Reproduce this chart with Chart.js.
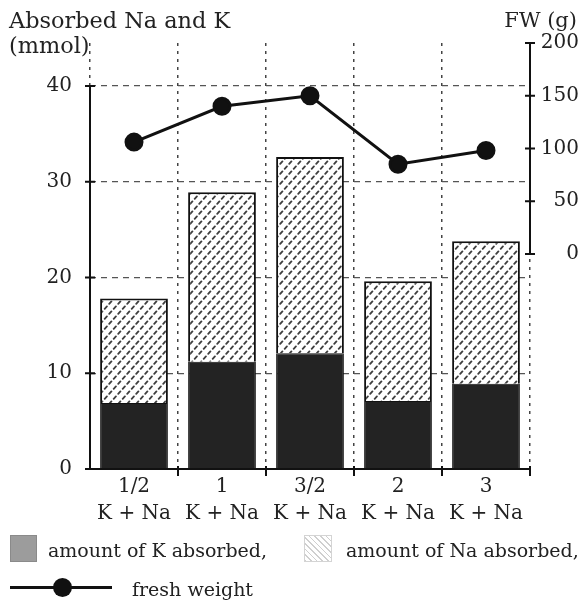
<!DOCTYPE html>
<html><head><meta charset="utf-8">
<script src="https://cdn.jsdelivr.net/npm/chart.js@4"></script>
<style>
html,body{margin:0;padding:0;background:#fff;}
#wrap{position:relative;width:579px;height:600px;font-family:"DejaVu Serif",serif;color:#222;overflow:hidden;}
#c{position:absolute;left:0;top:0;}
.t{position:absolute;white-space:nowrap;font-size:20px;line-height:24px;}
.lg{font-size:19px;}
.sw{position:absolute;}
</style></head><body>
<div id="wrap">
<canvas id="c" width="579" height="600"></canvas>
<div class="t" style="left:9px;top:8px;font-size:22.4px;line-height:25px;">Absorbed Na and K<br>(mmol)</div>
<div class="t" style="right:2px;top:8px;font-size:21px;">FW (g)</div>
<div class="sw" style="left:10px;top:535px;width:27px;height:27px;background:#9c9c9c;border:1px solid #8a8a8a;box-sizing:border-box;"></div>
<div class="t lg" style="left:48px;top:538px;">amount of K absorbed,</div>
<div class="sw" style="left:304px;top:535px;width:28px;height:27px;border:1px solid #d4d4d4;box-sizing:border-box;background:repeating-linear-gradient(45deg,#cfcfcf 0 1px,#fff 1px 4px);"></div>
<div class="t lg" style="left:346px;top:538px;">amount of Na absorbed,</div>
<div class="sw" style="left:10px;top:586px;width:102px;height:3px;background:#111;"></div>
<div class="sw" style="left:53px;top:578px;width:19px;height:19px;border-radius:50%;background:#111;"></div>
<div class="t lg" style="left:132px;top:577px;">fresh weight</div>
</div>
<script>
// ---- data ----
const ratioLabels = ['1/2', '1', '3/2', '2', '3'];
const saltLabel = 'K + Na';
const kAbsorbed = [6.9, 11.2, 12.1, 7.1, 8.9];      // mmol
const naAbsorbed = [10.9, 17.7, 20.5, 12.5, 14.9];  // mmol
const freshWeight = [106, 140, 150, 85, 98];        // g
const leftTicks = [0, 10, 20, 30, 40];
const rightTicks = [0, 50, 100, 150, 200];

const categories = ratioLabels.map(r => [r, saltLabel]);

function makePattern() {
  const c = document.createElement('canvas');
  c.width = 9; c.height = 10;
  const g = c.getContext('2d');
  g.fillStyle = '#fff'; g.fillRect(0, 0, 9, 10);
  g.strokeStyle = '#3e3e3e'; g.lineWidth = 1.8; g.lineCap = 'round';
  g.beginPath();
  g.moveTo(1.2, 3.8); g.lineTo(3.4, 1.4);
  g.moveTo(5.7, 8.8); g.lineTo(7.9, 6.4);
  g.stroke();
  return g.createPattern(c, 'repeat');
}

Chart.defaults.font.family = '"DejaVu Serif", serif';
Chart.defaults.font.size = 20;
Chart.defaults.color = '#222';

const axesPlugin = {
  id: 'axesPlugin',
  afterDraw(chart) {
    const ctx = chart.ctx, ca = chart.chartArea;
    const y = chart.scales.y, y1 = chart.scales.y1, x = chart.scales.x;
    ctx.save();
    ctx.strokeStyle = '#111';
    ctx.lineWidth = 2;
    ctx.beginPath();
    // left axis
    ctx.moveTo(ca.left, y.getPixelForValue(leftTicks[0]));
    ctx.lineTo(ca.left, y.getPixelForValue(leftTicks[leftTicks.length - 1]));
    leftTicks.forEach(v => {
      const p = y.getPixelForValue(v);
      ctx.moveTo(ca.left - 5, p); ctx.lineTo(ca.left + 5, p);
    });
    // bottom axis
    const y0 = y.getPixelForValue(0);
    ctx.moveTo(ca.left - 5, y0); ctx.lineTo(ca.right + 1, y0);
    const n = ratioLabels.length;
    for (let i = 0; i < n; i++) {
      const b = i < n - 1 ? (x.getPixelForValue(i) + x.getPixelForValue(i + 1)) / 2 : ca.right;
      ctx.moveTo(b, y0 - 3); ctx.lineTo(b, y0 + 7);
    }
    // right axis
    ctx.moveTo(ca.right, y1.getPixelForValue(rightTicks[0]));
    ctx.lineTo(ca.right, y1.getPixelForValue(rightTicks[rightTicks.length - 1]));
    rightTicks.forEach(v => {
      const p = y1.getPixelForValue(v);
      ctx.moveTo(ca.right - 5, p); ctx.lineTo(ca.right + 5, p);
    });
    ctx.stroke();
    ctx.restore();
  }
};

new Chart(document.getElementById('c'), {
  data: {
    labels: categories,
    datasets: [
      {
        type: 'line', label: 'fresh weight', data: freshWeight, yAxisID: 'y1',
        borderColor: '#111', backgroundColor: '#111', borderWidth: 3,
        pointRadius: 8, pointHoverRadius: 8, pointBackgroundColor: '#111',
        tension: 0, order: 0
      },
      {
        type: 'bar', label: 'amount of K absorbed', data: kAbsorbed, yAxisID: 'y',
        backgroundColor: '#232323', borderColor: '#111', borderWidth: 1,
        barPercentage: 0.77, categoryPercentage: 1, stack: 's', order: 1
      },
      {
        type: 'bar', label: 'amount of Na absorbed', data: naAbsorbed, yAxisID: 'y',
        backgroundColor: makePattern(), borderColor: '#111',
        borderWidth: {top: 2, left: 2, right: 2, bottom: 0}, borderSkipped: false,
        barPercentage: 0.77, categoryPercentage: 1, stack: 's', order: 1
      }
    ]
  },
  options: {
    responsive: false, animation: false, devicePixelRatio: 1,
    layout: {padding: {top: 43, left: 0, right: 0, bottom: 0}},
    plugins: {legend: {display: false}, tooltip: {enabled: false}, title: {display: false}},
    scales: {
      x: {
        stacked: true, offset: true,
        grid: {offset: true, color: '#444', lineWidth: 1.5, drawTicks: false},
        border: {display: false, dash: [3, 5]},
        ticks: {padding: 4, font: {size: 20, lineHeight: 1.35}, maxRotation: 0, autoSkip: false},
        afterFit(s) { s.height = 131; }
      },
      y: {
        position: 'left', stacked: true, min: 0, max: 44.5,
        afterBuildTicks(s) { s.ticks = leftTicks.map(v => ({value: v})); },
        grid: {color: c => (c.tick && c.tick.value === 0) ? 'rgba(0,0,0,0)' : '#555', lineWidth: 1.3, drawTicks: false},
        border: {display: false, dash: [6, 5]},
        ticks: {padding: 18},
        afterFit(s) { s.width = 90; }
      },
      y1: {
        position: 'right', min: -204, max: 200,
        afterBuildTicks(s) { s.ticks = rightTicks.map(v => ({value: v})); },
        grid: {display: false, drawTicks: false},
        border: {display: false},
        ticks: {padding: 12, crossAlign: 'far'},
        afterFit(s) { s.width = 49; }
      }
    }
  },
  plugins: [axesPlugin]
});
</script>
</body></html>
